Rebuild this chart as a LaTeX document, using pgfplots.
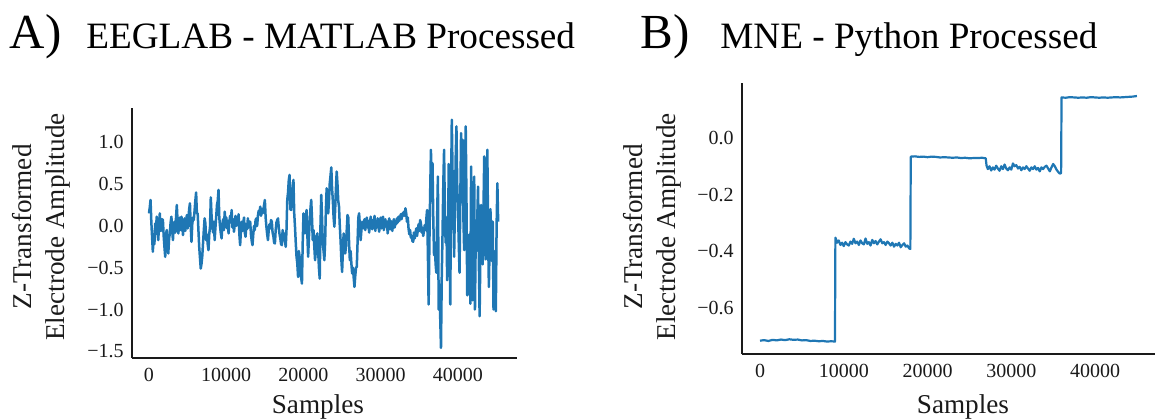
\documentclass[border=0pt]{standalone}
\usepackage{fontspec}
\setmainfont{Liberation Serif}
\usepackage{pgfplots}
\pgfplotsset{compat=1.18}
\definecolor{mplblue}{HTML}{1F77B4}
\definecolor{spine}{HTML}{1A1A1A}

\pgfplotstableread{
x y
0 0.15
100 0.22
200 0.31
300 0.05
400 -0.13
500 -0.31
600 -0.10
700 -0.22
800 0.03
900 -0.05
1000 0.11
1100 -0.08
1200 -0.17
1300 0.02
1400 0.15
1500 -0.06
1600 -0.05
1700 0.08
1800 0.07
1900 -0.12
2000 -0.25
2100 -0.37
2200 -0.10
2300 -0.05
2400 -0.20
2500 -0.33
2600 -0.15
2700 -0.09
2800 0.04
2900 0.11
3000 -0.05
3100 -0.17
3200 0.00
3300 0.05
3400 -0.08
3500 0.10
3600 0.25
3700 0.05
3800 -0.09
3900 0.02
4000 0.10
4100 -0.05
4200 0.11
4300 0.02
4400 -0.11
4500 0.00
4600 0.09
4700 -0.06
4800 0.05
4900 0.13
5000 -0.03
5100 0.08
5200 0.20
5300 0.27
5400 0.00
5500 -0.19
5600 0.02
5700 0.10
5800 0.07
5900 0.18
6000 0.30
6100 0.40
6200 0.15
6300 0.15
6400 -0.05
6500 -0.25
6600 -0.38
6700 -0.51
6800 -0.45
6900 -0.36
7000 -0.20
7100 -0.05
7200 0.09
7300 0.03
7400 -0.17
7500 -0.10
7600 -0.22
7700 -0.29
7800 -0.10
7900 -0.01
8000 0.34
8100 0.12
8200 -0.01
8300 -0.08
8400 0.05
8500 -0.17
8600 -0.02
8700 0.11
8800 0.25
8900 0.30
9000 0.43
9100 0.10
9200 -0.01
9300 -0.09
9400 -0.15
9500 0.02
9600 0.08
9700 -0.05
9800 0.17
9900 0.05
10000 0.10
10100 -0.03
10200 0.06
10300 -0.09
10400 0.04
10500 0.12
10600 0.05
10700 0.19
10800 -0.02
10900 0.08
11000 -0.07
11100 0.02
11200 0.12
11300 0.00
11400 0.07
11500 0.03
11600 0.14
11700 -0.10
11800 -0.23
11900 -0.05
12000 0.05
12100 -0.06
12200 0.03
12300 0.10
12400 -0.08
12500 -0.13
12600 0.02
12700 -0.04
12800 0.09
12900 -0.02
13000 0.05
13100 0.05
13200 -0.10
13300 -0.18
13400 -0.23
13500 -0.10
13600 0.00
13700 -0.05
13800 0.07
13900 0.09
14000 0.00
14100 0.12
14200 0.18
14300 0.15
14400 0.23
14500 0.12
14600 0.20
14700 0.15
14800 0.19
14900 0.25
15000 0.31
15100 0.10
15200 -0.01
15300 -0.10
15400 -0.17
15500 -0.05
15600 0.02
15700 -0.03
15800 0.07
15900 0.05
16000 -0.08
16100 -0.12
16200 -0.20
16300 -0.21
16400 -0.05
16500 0.04
16600 0.07
16700 0.09
16800 -0.02
16900 -0.10
17000 -0.15
17100 -0.22
17200 -0.23
17300 -0.05
17400 -0.12
17500 -0.09
17600 -0.18
17700 -0.25
17800 -0.05
17900 0.31
18000 0.40
18100 0.55
18200 0.61
18300 0.20
18400 0.19
18500 0.35
18600 0.45
18700 0.55
18800 0.15
18900 -0.01
19000 -0.20
19100 -0.37
19200 -0.45
19300 -0.61
19400 -0.30
19500 -0.37
19600 -0.55
19700 -0.62
19800 -0.69
19900 -0.20
20000 0.15
20100 0.05
20200 -0.09
20300 0.10
20400 0.19
20500 -0.10
20600 -0.37
20700 -0.15
20800 0.05
20900 0.20
21000 0.31
21100 0.10
21200 -0.17
21300 -0.05
21400 -0.25
21500 -0.41
21600 -0.30
21700 -0.12
21800 -0.09
21900 -0.30
22000 -0.50
22100 -0.63
22200 0.00
22300 0.37
22400 0.10
22500 -0.21
22600 -0.30
22700 -0.41
22800 -0.20
22900 0.20
23000 0.45
23100 0.20
23200 0.15
23300 0.30
23400 0.51
23500 0.60
23600 0.70
23700 0.45
23800 0.30
23900 0.10
24000 -0.01
24100 0.20
24200 0.45
24300 0.65
24400 0.50
24500 0.30
24600 0.23
24700 0.00
24800 -0.17
24900 -0.40
25000 -0.55
25100 -0.30
25200 -0.09
25300 -0.20
25400 -0.33
25500 -0.25
25600 -0.05
25700 0.13
25800 0.10
25900 -0.20
26000 -0.41
26100 -0.30
26200 -0.45
26300 -0.57
26400 -0.50
26500 -0.62
26600 -0.73
26700 -0.60
26800 -0.50
26900 -0.49
27000 -0.20
27100 0.10
27200 0.15
27300 0.00
27400 -0.17
27500 -0.05
27600 0.05
27700 0.03
27800 -0.03
27900 0.08
28000 -0.05
28100 0.04
28200 0.10
28300 -0.02
28400 0.06
28500 -0.08
28600 0.03
28700 0.11
28800 0.00
28900 -0.04
29000 0.07
29100 0.02
29200 0.12
29300 -0.06
29400 0.05
29500 -0.02
29600 0.09
29700 0.01
29800 -0.07
29900 0.06
30000 0.10
30100 -0.03
30200 0.04
30300 0.11
30400 -0.05
30500 0.02
30600 0.08
30700 -0.01
30800 0.05
30900 -0.09
31000 0.03
31100 0.09
31200 -0.04
31300 0.06
31400 0.00
31500 -0.06
31600 0.04
31700 0.08
31800 -0.02
31900 0.05
32000 0.02
32100 0.09
32200 0.04
32300 0.11
32400 0.06
32500 0.10
32600 0.14
32700 0.08
32800 0.15
32900 0.12
33000 0.17
33100 0.12
33200 0.21
33300 0.15
33400 0.05
33500 0.10
33600 -0.03
33700 -0.10
33800 -0.05
33900 -0.14
34000 -0.12
34100 -0.18
34200 -0.19
34300 -0.08
34400 -0.15
34500 -0.09
34600 -0.03
34700 -0.12
34800 -0.05
34900 0.02
35000 -0.06
35100 0.07
35200 0.03
35300 -0.08
35400 -0.02
35500 -0.12
35600 -0.06
35700 0.01
35800 -0.05
35900 0.08
36000 0.19
36100 -0.30
36200 -0.94
36300 -0.20
36400 0.40
36500 0.91
36600 0.30
36700 0.75
36800 0.10
36900 -0.35
37000 -0.20
37100 -0.45
37200 -0.56
37300 0.10
37400 0.59
37500 -1.00
37600 -0.70
37700 -1.10
37800 -1.46
37900 -0.60
38000 -0.10
38100 0.50
38200 0.91
38300 0.20
38400 -0.20
38500 0.10
38600 -0.65
38700 -0.30
38800 0.74
38900 0.20
39000 -0.94
39100 0.40
39200 1.27
39300 0.60
39400 0.30
39500 -0.37
39600 0.20
39700 0.80
39800 1.19
39900 0.50
40000 0.19
40100 -0.20
40200 -0.56
40300 0.30
40400 1.11
40500 0.40
40600 1.03
40700 0.10
40800 -0.29
40900 0.60
41000 1.19
41100 0.30
41200 -0.83
41300 -0.50
41400 -0.72
41500 -0.10
41600 -0.93
41700 0.71
41800 -0.30
41900 -0.89
42000 -0.20
42100 0.59
42200 -1.00
42300 -0.10
42400 -0.30
42500 0.10
42600 0.47
42700 -0.40
42800 -1.08
42900 -0.30
43000 0.25
43100 -0.10
43200 -0.46
43300 0.20
43400 0.83
43500 0.30
43600 -0.40
43700 0.10
43800 0.91
43900 -0.10
44000 -0.73
44100 -0.20
44200 0.20
44300 -0.10
44400 -0.42
44500 0.05
44600 -1.00
44700 -0.98
44800 -0.30
44900 -1.02
45000 0.00
45100 0.51
45200 0.05
}\eeglab

\pgfplotstableread{
x y
0 -0.716
500 -0.714
1000 -0.717
1500 -0.713
2000 -0.715
2500 -0.712
3000 -0.714
3500 -0.711
4000 -0.713
4500 -0.712
5000 -0.715
5500 -0.714
6000 -0.717
6500 -0.716
7000 -0.718
7500 -0.717
8000 -0.719
8500 -0.718
8950 -0.719
9000 -0.352
9200 -0.370
9400 -0.362
9600 -0.378
9800 -0.370
10000 -0.382
10200 -0.368
10400 -0.376
10600 -0.380
10800 -0.366
11000 -0.374
11200 -0.356
11400 -0.372
11600 -0.366
11800 -0.378
12000 -0.362
12200 -0.372
12400 -0.376
12600 -0.355
12800 -0.374
13000 -0.368
13200 -0.380
13400 -0.360
13600 -0.372
13800 -0.364
14000 -0.376
14200 -0.366
14400 -0.358
14600 -0.372
14800 -0.368
15000 -0.378
15200 -0.366
15400 -0.372
15600 -0.380
15800 -0.370
16000 -0.384
16200 -0.374
16400 -0.380
16600 -0.370
16800 -0.386
17000 -0.378
17200 -0.372
17400 -0.384
17600 -0.380
17800 -0.390
17950 -0.392
18000 -0.066
18500 -0.065
19000 -0.067
19500 -0.066
20000 -0.068
20500 -0.066
21000 -0.067
21500 -0.069
22000 -0.068
22500 -0.069
23000 -0.070
23500 -0.069
24000 -0.071
24500 -0.070
25000 -0.072
25500 -0.071
26000 -0.071
26500 -0.070
26950 -0.072
27050 -0.098
27200 -0.110
27400 -0.100
27600 -0.115
27800 -0.104
28000 -0.112
28200 -0.098
28400 -0.108
28600 -0.116
28800 -0.100
29000 -0.110
29200 -0.094
29400 -0.108
29600 -0.114
29800 -0.104
30000 -0.112
30200 -0.090
30400 -0.100
30600 -0.096
30800 -0.108
31000 -0.102
31200 -0.114
31400 -0.104
31600 -0.110
31800 -0.100
32000 -0.108
32200 -0.116
32400 -0.104
32600 -0.110
32800 -0.100
33000 -0.112
33200 -0.106
33400 -0.118
33600 -0.104
33800 -0.110
34000 -0.102
34200 -0.098
34400 -0.108
34600 -0.118
34800 -0.104
35000 -0.092
35200 -0.100
35400 -0.112
35600 -0.120
35800 -0.126
35950 -0.124
36000 0.143
36500 0.142
37000 0.144
37500 0.143
38000 0.142
38500 0.143
39000 0.142
39500 0.144
40000 0.143
40500 0.142
41000 0.143
41500 0.142
42000 0.143
42500 0.144
43000 0.143
43500 0.144
44000 0.145
44500 0.146
45000 0.148
}\mne

\begin{document}
\begin{tikzpicture}
\useasboundingbox (0,0) rectangle (577.5bp,209.5bp);
\pgfplotsset{
  panel/.style={
    scale only axis,
    axis x line*=bottom,
    axis y line*=left,
    axis line style={line width=1bp, spine},
    major tick length=0pt,
    minor tick num=0,
    scaled x ticks=false,
    scaled y ticks=false,
    tick label style={font=\fontsize{10bp}{12bp}\selectfont, inner sep=0pt, text=spine},
    xticklabel style={yshift=-5bp},
    yticklabel style={xshift=-4bp},
    xtick={0,10000,20000,30000,40000},
    xticklabels={0,10000,20000,30000,40000},
    label style={font=\fontsize{13.6bp}{16.5bp}\selectfont, text=spine},
    ylabel style={align=center},
    clip=true,
  }
}
% Panel A
\begin{axis}[panel,
  at={(66bp,30.5bp)}, anchor=south west,
  width=192.5bp, height=125bp,
  xmin=-2200, xmax=47640,
  ymin=-1.58, ymax=1.41,
  ytick={-1.5,-1.0,-0.5,0,0.5,1.0},
  yticklabels={−1.5,−1.0,−0.5,0.0,0.5,1.0},
  xlabel={Samples},
  xlabel style={at={(axis description cs:0.483,-0.22)}, anchor=base},
  ylabel={Z-Transformed\\Electrode Amplitude},
  ylabel style={at={(axis description cs:-0.236,0.524)}, anchor=center},
]
\addplot[mplblue, line width=1.25bp, line join=round] table[x=x,y=y] {\eeglab};
\end{axis}
% Panel B
\begin{axis}[panel,
  at={(371bp,32.5bp)}, anchor=south west,
  width=206.5bp, height=135.5bp,
  xmin=-2150, xmax=47160,
  ymin=-0.763, ymax=0.194,
  ytick={-0.6,-0.4,-0.2,0},
  yticklabels={−0.6,−0.4,−0.2,0.0},
  xlabel={Samples},
  xlabel style={at={(axis description cs:0.535,-0.221)}, anchor=base},
  ylabel={Z-Transformed\\Electrode Amplitude},
  ylabel style={at={(axis description cs:-0.218,0.469)}, anchor=center},
]
\addplot[mplblue, line width=1.1bp, line join=round] table[x=x,y=y] {\mne};
\end{axis}
% Titles
\node[anchor=base west, inner sep=0pt, font=\fontsize{24.5bp}{28bp}\selectfont] at (4.8bp,185bp) {A)};
\node[anchor=base west, inner sep=0pt, font=\fontsize{18.6bp}{22bp}\selectfont] at (43bp,185bp) {EEGLAB - MATLAB Processed};
\node[anchor=base west, inner sep=0pt, font=\fontsize{24.5bp}{28bp}\selectfont] at (320bp,185bp) {B)};
\node[anchor=base west, inner sep=0pt, font=\fontsize{18.6bp}{22bp}\selectfont] at (360bp,185bp) {MNE - Python Processed};
\end{tikzpicture}
\end{document}
